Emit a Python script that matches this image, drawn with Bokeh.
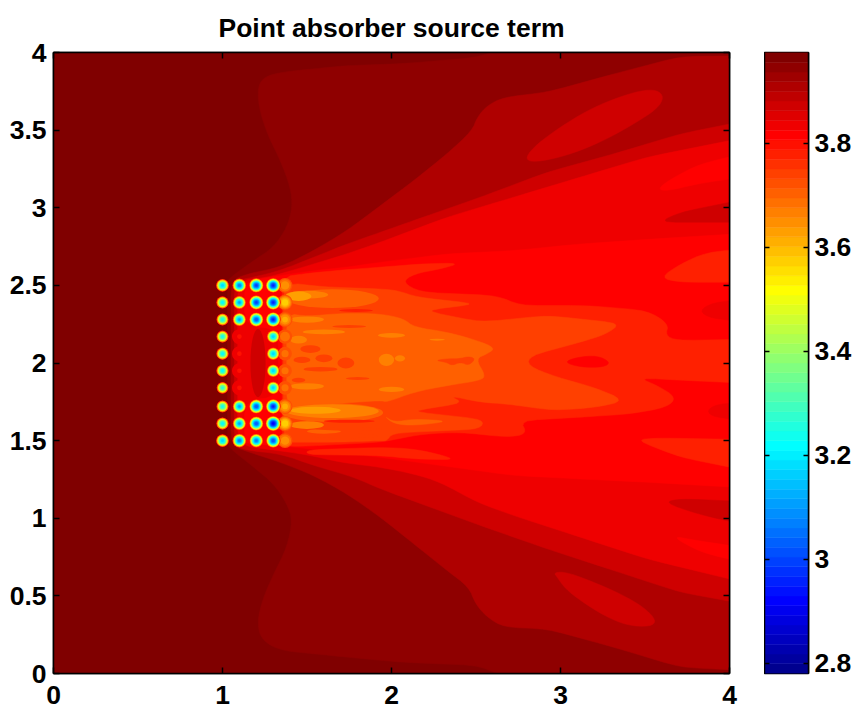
import math
import numpy as np
from bokeh.embed import file_html
from bokeh.resources import INLINE
from bokeh.plotting import figure
from bokeh.layouts import row
from bokeh.models import LinearAxis, FixedTicker, LinearColorMapper, Range1d, ColumnDataSource
from bokeh.transform import transform

# ---------- data ----------
title_text = "Point absorber source term"
x_ticks = [0, 1, 2, 3, 4]
y_ticks = [0, 0.5, 1, 1.5, 2, 2.5, 3, 3.5, 4]
y_labels = ["0", "0.5", "1", "1.5", "2", "2.5", "3", "3.5", "4"]
cb_ticks = [2.8, 3.0, 3.2, 3.4, 3.6, 3.8]
cb_labels = ["2.8", "3", "3.2", "3.4", "3.6", "3.8"]
value_low, value_high = 2.78, 3.975

band_outer = [(0, 0), (4, 0), (4, 4), (0, 4)]
band_a = [(3.0, 4.0), (2.527, 3.97), (2.053, 3.927), (1.737, 3.916), (1.54, 3.895), (1.343, 3.873), (1.244, 3.841), (1.209, 3.776),
          (1.215, 3.648), (1.264, 3.476), (1.343, 3.304), (1.402, 3.132), (1.414, 3.003), (1.382, 2.875), (1.303, 2.746),
          (1.185, 2.66), (1.047, 2.553), (1.03, 2.52), (1.03, 1.48), (1.047, 1.447), (1.185, 1.329), (1.303, 1.222), (1.382, 1.093),
          (1.414, 0.986), (1.382, 0.814), (1.303, 0.642), (1.234, 0.47), (1.205, 0.32), (1.234, 0.213), (1.343, 0.148),
          (1.54, 0.127), (1.737, 0.105), (2.053, 0.073), (2.527, 0.051), (3.0, 0.0), (4, 0), (4, 4)]
band_b = [(4, 3.98), (3.71, 3.974), (3.316, 3.862), (2.921, 3.744), (2.665, 3.712), (2.566, 3.658), (2.507, 3.583), (2.477, 3.497),
          (2.329, 3.347), (2.132, 3.175), (1.935, 3.014), (1.737, 2.853), (1.54, 2.724), (1.343, 2.617), (1.145, 2.574),
          (1.05, 2.53), (1.05, 1.47), (1.145, 1.43), (1.343, 1.361), (1.54, 1.276), (1.737, 1.157), (1.935, 1.006),
          (2.132, 0.835), (2.329, 0.663), (2.458, 0.556), (2.497, 0.448), (2.566, 0.362), (2.665, 0.298), (2.921, 0.287),
          (3.316, 0.169), (3.71, 0.04), (4, 0.014)]
band_c = [(4, 3.583), (3.71, 3.476), (3.316, 3.347), (2.921, 3.229), (2.527, 3.068), (2.132, 2.918), (1.935, 2.842), (1.737, 2.767),
          (1.54, 2.681), (1.343, 2.596), (1.185, 2.553), (1.07, 2.53), (1.07, 1.47), (1.145, 1.437), (1.343, 1.415), (1.54, 1.34),
          (1.777, 1.265), (1.935, 1.189), (2.527, 0.953), (2.921, 0.803), (3.316, 0.663), (3.71, 0.523), (4, 0.427)]
island_c_up = [(2.793, 3.326), (2.862, 3.411), (2.998, 3.519), (3.158, 3.626), (3.316, 3.701), (3.473, 3.755), (3.572, 3.759),
               (3.612, 3.712), (3.572, 3.637), (3.434, 3.54), (3.276, 3.444), (3.118, 3.368), (2.961, 3.315), (2.823, 3.293)]
island_c_low = [(2.961, 0.652), (3.04, 0.652), (3.197, 0.588), (3.355, 0.513), (3.493, 0.427), (3.568, 0.341), (3.533, 0.302),
                (3.395, 0.309), (3.257, 0.373), (3.118, 0.47), (3.03, 0.545), (2.98, 0.62)]
band_d = [(4, 3.476), (3.513, 3.326), (3.118, 3.197), (2.724, 3.068), (2.329, 2.939), (1.935, 2.778), (1.737, 2.703), (1.54, 2.638),
          (1.343, 2.574), (1.244, 2.548), (1.09, 2.53), (1.09, 1.47), (1.3, 1.44), (1.5, 1.41), (1.7, 1.36), (1.935, 1.329),
          (2.132, 1.286), (2.29, 1.232), (2.507, 1.103), (2.724, 1.017), (3.118, 0.878), (3.513, 0.738), (4, 0.556)]
island_cd_up = [(3.582, 2.907), (3.71, 2.971), (4, 3.079), (4, 2.907)]
island_cd_low = [(3.612, 1.103), (3.71, 1.125), (4, 1.103), (4, 0.931), (3.81, 1.028)]
lens_e_up = [(3.572, 3.122), (3.671, 3.197), (3.828, 3.283), (4, 3.379), (4, 3.218), (3.809, 3.154), (3.631, 3.107)]
lens_e_low = [(3.651, 0.888), (3.809, 0.856), (4, 0.792), (4, 0.684), (3.828, 0.781)]
band_e = [(4, 2.842), (3.71, 2.81), (3.118, 2.767), (2.724, 2.724), (2.329, 2.703), (1.935, 2.649), (1.737, 2.617), (1.54, 2.595),
          (1.343, 2.563), (1.17, 2.53), (1.13, 2.5), (1.13, 2.24), (1.33, 2.22), (1.33, 1.78), (1.13, 1.76), (1.13, 1.5), (1.15, 1.48),
          (1.3, 1.47), (1.5, 1.45), (1.7, 1.42), (1.935, 1.393), (2.724, 1.275), (3.118, 1.253), (3.513, 1.232), (4, 1.189)]
island_d_up = [(3.819, 2.338), (3.907, 2.391), (4, 2.424), (4, 2.256), (3.888, 2.287)]
island_d_low = [(3.864, 1.693), (3.927, 1.736), (4, 1.758), (4, 1.618), (3.907, 1.65)]
island_f_up = [(3.588, 2.548), (3.71, 2.638), (3.868, 2.714), (4, 2.746), (4, 2.52), (3.71, 2.52)]
island_f_low = [(3.444, 1.505), (3.572, 1.517), (4, 1.505), (4, 1.286), (3.71, 1.393)]
island_f_stripe = [(1.5, 1.44), (1.935, 1.457), (2.132, 1.447), (2.31, 1.404), (2.369, 1.376), (2.132, 1.382), (1.935, 1.404), (1.5, 1.41)]
band_f = [(1.353, 2.553), (1.481, 2.575), (1.718, 2.6), (1.935, 2.617), (2.2, 2.64), (2.408, 2.643), (2.29, 2.606), (2.132, 2.574),
          (2.063, 2.52), (2.172, 2.456), (2.625, 2.434), (2.763, 2.37), (3.158, 2.37), (3.513, 2.338), (3.641, 2.252), (3.621, 2.177),
          (3.69, 2.145), (4, 2.155), (4, 1.865), (3.75, 1.887), (3.464, 1.904), (3.572, 1.855), (3.686, 1.779), (3.631, 1.715),
          (3.414, 1.672), (3.118, 1.651), (2.763, 1.629), (2.803, 1.543), (2.685, 1.522), (2.408, 1.554), (2.191, 1.543),
          (2.034, 1.511), (1.935, 1.49), (1.462, 1.462), (1.353, 1.468)]
island_e_core = [(3.02, 2.005), (3.098, 2.037), (3.217, 2.048), (3.296, 2.005), (3.256, 1.973), (3.118, 1.973)]
band_g = [(1.36, 2.52), (1.6, 2.49), (1.935, 2.477), (2.034, 2.467), (2.152, 2.424), (2.507, 2.381), (2.191, 2.338), (2.527, 2.263),
          (2.921, 2.306), (3.355, 2.256), (3.276, 2.188), (3.118, 2.134), (2.823, 2.048), (2.803, 1.983), (2.98, 1.908), (3.197, 1.844),
          (3.385, 1.758), (3.217, 1.715), (2.961, 1.694), (2.685, 1.736), (2.527, 1.747), (2.339, 1.79), (2.428, 1.743), (2.112, 1.689),
          (2.546, 1.636), (2.527, 1.575), (2.329, 1.565), (2.004, 1.548), (1.974, 1.5), (1.935, 1.5), (1.7, 1.49), (1.5, 1.49), (1.36, 1.49)]
band_h = [(1.38, 2.32), (1.5, 2.3), (1.7, 2.32), (1.935, 2.317), (2.073, 2.285), (2.132, 2.231), (2.329, 2.199), (2.507, 2.145), (2.615, 2.096),
          (2.566, 2.059), (2.497, 2.027), (2.556, 1.92), (2.527, 1.888), (2.329, 1.855), (2.132, 1.813), (1.974, 1.748), (1.935, 1.759),
          (1.7, 1.74), (1.5, 1.72), (1.38, 1.7)]
island_g_notch = [(2.26, 2.016), (2.32, 2.027), (2.399, 2.027), (2.458, 2.042), (2.497, 2.027), (2.458, 1.984), (2.408, 2.006), (2.359, 1.984), (2.32, 2.006)]
island_h_stripe = [(1.955, 1.661), (2.014, 1.618), (2.132, 1.64), (2.349, 1.625), (2.132, 1.597), (2.014, 1.608)]

band_polys = [band_outer, band_a, band_b, band_c, island_c_up, island_c_low, band_d, island_cd_up, island_cd_low, lens_e_up, lens_e_low,
              band_e, island_d_up, island_d_low, island_f_up, island_f_low, island_f_stripe, band_f, island_e_core, band_g, band_h,
              island_g_notch, island_h_stripe]
band_values = [3.97, 3.947, 3.91, 3.872, 3.872, 3.872, 3.835, 3.872, 3.872, 3.816, 3.816,
               3.816, 3.835, 3.835, 3.778, 3.778, 3.778, 3.778, 3.816, 3.741, 3.704,
               3.741, 3.704]

# mottled streaks behind the array
streak_x = [1.72, 1.65, 1.5, 1.45, 1.79, 1.75, 1.52, 1.6, 1.47, 1.73, 1.58, 1.8, 1.45, 2.0, 1.97, 2.05, 2.0, 2.27,
            1.5, 1.6, 1.45, 1.5, 1.65, 1.65, 1.55, 1.5, 1.6, 1.75, 1.72, 1.75, 1.21]
streak_y = [2.515, 2.415, 2.44, 2.43, 2.338, 2.235, 2.09, 2.03, 2.02, 2.0, 1.96, 1.9, 1.89, 2.178, 2.02, 2.03, 1.83, 2.15,
            2.28, 2.2, 2.15, 1.85, 1.68, 1.69, 1.695, 1.6, 1.56, 1.575, 1.53, 1.625, 2.0]
streak_w = [0.3, 0.55, 0.25, 0.15, 0.2, 0.2, 0.12, 0.1, 0.1, 0.1, 0.2, 0.14, 0.08, 0.16, 0.09, 0.06, 0.15, 0.09,
            0.2, 0.25, 0.1, 0.2, 0.6, 0.55, 0.3, 0.2, 0.2, 0.4, 0.4, 0.3, 0.09]
streak_h = [0.035, 0.12, 0.05, 0.06, 0.02, 0.02, 0.05, 0.05, 0.04, 0.07, 0.03, 0.02, 0.03, 0.03, 0.08, 0.04, 0.035, 0.012,
            0.04, 0.03, 0.05, 0.04, 0.12, 0.09, 0.045, 0.05, 0.03, 0.02, 0.03, 0.02, 0.44]
streak_v = [3.778, 3.704, 3.666, 3.63, 3.778, 3.741, 3.741, 3.741, 3.741, 3.741, 3.741, 3.741, 3.741, 3.666, 3.666, 3.666, 3.666, 3.666,
            3.666, 3.666, 3.666, 3.666, 3.704, 3.666, 3.63, 3.666, 3.704, 3.741, 3.741, 3.778, 3.872]

# absorbers: position and lowest value in each dip
dot_x = [1.0]*10 + [1.1]*6 + [1.2]*6 + [1.3]*10
dot_y = [2.5, 2.39, 2.28, 2.17, 2.06, 1.95, 1.84, 1.72, 1.61, 1.5,
         2.5, 2.39, 2.28, 1.72, 1.61, 1.5,
         2.5, 2.39, 2.28, 1.72, 1.61, 1.5,
         2.5, 2.39, 2.28, 2.17, 2.06, 1.95, 1.84, 1.72, 1.61, 1.5]
dot_min = [3.15, 3.2, 3.22, 3.22, 3.2, 3.2, 3.25, 3.22, 3.2, 3.15,
           3.05, 3.1, 3.1, 3.1, 3.1, 3.05,
           2.98, 2.98, 3.0, 3.0, 3.0, 3.05,
           2.95, 2.95, 2.95, 3.15, 3.15, 3.15, 3.15, 2.95, 2.9, 3.0]
# shallow bright spots just behind the array
blob_x = [1.37]*10
blob_y = [2.5, 2.39, 2.28, 2.17, 2.06, 1.95, 1.84, 1.72, 1.61, 1.5]
blob_min = [3.62, 3.55, 3.6, 3.66, 3.68, 3.68, 3.68, 3.6, 3.55, 3.62]
glow_x = [1.1, 1.1, 1.1, 1.1]
glow_y = [2.17, 2.06, 1.95, 1.84]
glow_min = [3.79, 3.79, 3.79, 3.79]

# ---------- MATLAB jet colormap ----------
def jet_palette(m=64):
    n = 16
    u = [i / n for i in range(1, n + 1)] + [1.0] * (n - 1) + [i / n for i in range(n, 0, -1)]
    r = [0.0] * m; g = [0.0] * m; b = [0.0] * m
    for k, val in enumerate(u):
        gi = 8 + k
        if gi < m: g[gi] = val
        if gi + n < m: r[gi + n] = val
        if gi - n >= 0: b[gi - n] = val
    return ["#%02x%02x%02x" % (round(r[i]*255), round(g[i]*255), round(b[i]*255)) for i in range(m)]

palette = jet_palette()
mapper = LinearColorMapper(palette=palette, low=value_low, high=value_high)
FONT = "Liberation Sans"
TICK_PX = "26.5px"

def rings(xs, ys, mins, base, reach):
    rx, ry, rs, rv = [], [], [], []
    step = (value_high - value_low) / 32
    for x0, y0, v0 in zip(xs, ys, mins):
        d = base - v0
        rmax = reach(d)
        level = base - step / 2
        while level > v0:
            rx.append(x0); ry.append(y0); rv.append(level)
            rs.append(2 * rmax * math.sqrt((level - v0) / d))
            level -= step
    order = np.argsort(-np.array(rv))
    return dict(x=[rx[i] for i in order], y=[ry[i] for i in order], size=[rs[i] for i in order], v=[rv[i] for i in order])

def smooth(poly, passes=2, cut=0.05):
    """Round a traced outline; outlines that touch the frame run on past it."""
    pts = [(4.2 if a >= 3.999 else a, 4.2 if b >= 3.999 else (-0.2 if b <= 0.001 else b)) for a, b in poly]
    for _ in range(passes):
        out = []
        for i in range(len(pts)):
            a, b = pts[i], pts[(i + 1) % len(pts)]
            length = math.hypot(b[0] - a[0], b[1] - a[1]) or 1.0
            f = min(0.25, cut / length)
            out.append((a[0] + (b[0] - a[0]) * f, a[1] + (b[1] - a[1]) * f))
            out.append((b[0] - (b[0] - a[0]) * f, b[1] - (b[1] - a[1]) * f))
        pts = out
    return pts

# ---------- main panel ----------
p = figure(width=764, height=708, output_backend="svg", toolbar_location=None,
           x_range=Range1d(0, 4), y_range=Range1d(0, 4), title=title_text,
           min_border_left=53, min_border_right=35, min_border_top=52, min_border_bottom=35)
p.grid.visible = False
p.title.align = "center"
p.title.text_font = FONT
p.title.text_font_style = "bold"
p.title.text_font_size = "26.5px"
p.title.text_color = "black"
p.title.standoff = 20
p.outline_line_color = "black"
p.outline_line_width = 1.5

cmap = transform("v", mapper)
drawn = [band_outer] + [smooth(poly) for poly in band_polys[1:]]
src = ColumnDataSource(dict(xs=[[q[0] for q in poly] for poly in drawn],
                            ys=[[q[1] for q in poly] for poly in drawn], v=band_values))
p.patches("xs", "ys", source=src, fill_color=cmap, line_color=cmap, line_width=0.5)
p.ellipse(x="x", y="y", width="w", height="h", fill_color=cmap, line_color=None,
          source=ColumnDataSource(dict(x=streak_x, y=streak_y, w=streak_w, h=streak_h, v=streak_v)))
p.scatter(x="x", y="y", size="size", fill_color=cmap, line_color=None,
          source=ColumnDataSource(rings(glow_x, glow_y, glow_min, 3.85, lambda d: 9.0)))
p.scatter(x="x", y="y", size="size", fill_color=cmap, line_color=None,
          source=ColumnDataSource(rings(blob_x, blob_y, blob_min, 3.75, lambda d: 8.0)))
p.scatter(x="x", y="y", size="size", fill_color=cmap, line_color=None,
          source=ColumnDataSource(rings(dot_x, dot_y, dot_min, 3.84, lambda d: 3 + 5 * d)))

def style_axis(ax, ticks, overrides=None, labelled=True):
    ax.ticker = FixedTicker(ticks=ticks)
    ax.major_tick_in = 6
    ax.major_tick_out = 0
    ax.minor_tick_in = 0
    ax.minor_tick_out = 0
    ax.major_tick_line_color = "black"
    ax.major_tick_line_width = 1.5
    ax.axis_line_color = "black"
    ax.axis_line_width = 1.5
    if labelled:
        ax.major_label_text_font = FONT
        ax.major_label_text_font_style = "bold"
        ax.major_label_text_font_size = TICK_PX
        ax.major_label_text_color = "black"
        ax.major_label_standoff = 7
        if overrides:
            ax.major_label_overrides = overrides
    else:
        ax.major_label_overrides = {t: "" for t in ticks}
        ax.major_label_standoff = 0

style_axis(p.xaxis[0], x_ticks, {t: str(t) for t in x_ticks})
p.xaxis[0].major_label_standoff = 12
style_axis(p.yaxis[0], y_ticks, dict(zip(y_ticks, y_labels)))
top_ax = LinearAxis(); style_axis(top_ax, x_ticks, labelled=False); p.add_layout(top_ax, "above")
right_ax = LinearAxis(); style_axis(right_ax, y_ticks, labelled=False); p.add_layout(right_ax, "right")

# ---------- colour bar ----------
cb = figure(width=90, height=708, output_backend="svg", toolbar_location=None,
            x_range=Range1d(0, 1), y_range=Range1d(value_low, value_high), y_axis_location="right",
            min_border_left=0, min_border_right=45, min_border_top=52, min_border_bottom=35)
cb.grid.visible = False
cb.xaxis.visible = False
cb.outline_line_color = "black"
cb.outline_line_width = 1.5
edges = np.linspace(value_low, value_high, len(palette) + 1)
cb_src = dict(bottom=edges[:-1].tolist(), top=edges[1:].tolist(), v=((edges[:-1] + edges[1:]) / 2).tolist())
cb.quad(left=0, right=1, bottom="bottom", top="top", fill_color=cmap, line_color=cmap, line_width=0.5,
        source=ColumnDataSource(cb_src))
style_axis(cb.yaxis[0], cb_ticks, dict(zip(cb_ticks, cb_labels)))
cb.yaxis[0].major_tick_in = 5
cb.yaxis[0].major_label_standoff = 6
cb_left = LinearAxis(); style_axis(cb_left, cb_ticks, labelled=False); cb_left.major_tick_in = 5
cb.add_layout(cb_left, "left")

open("out.html", "w").write(file_html(row(p, cb), INLINE))
